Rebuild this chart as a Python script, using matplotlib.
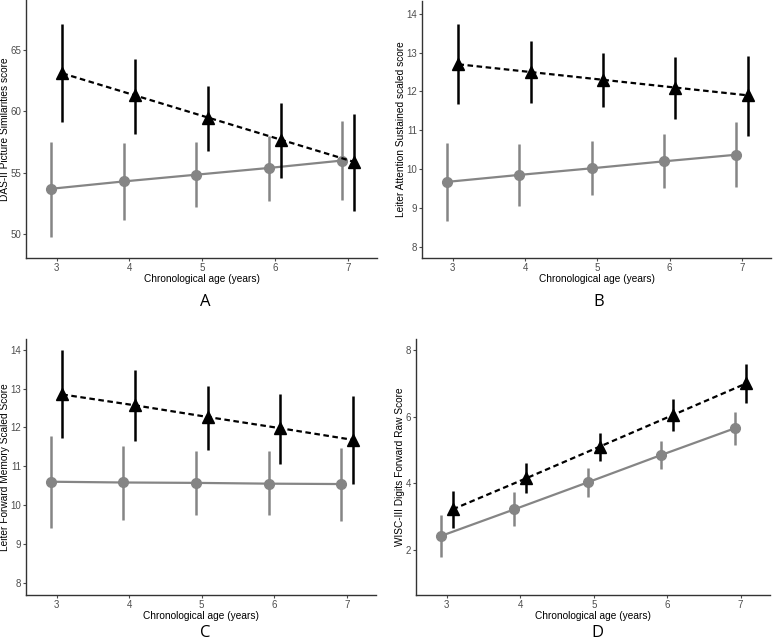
import matplotlib
matplotlib.use("Agg")
import matplotlib.pyplot as plt
import numpy as np

plt.rcParams['font.family'] = ['Liberation Sans', 'DejaVu Sans']

ages = [3, 4, 5, 6, 7]

# Panel A
a_black = [63.1, 61.3, 59.5, 57.7, 55.9]
a_black_lo = [59.1, 58.2, 56.8, 54.6, 51.9]
a_black_hi = [67.1, 64.3, 62.1, 60.7, 59.8]
a_gray = [53.7, 54.3, 54.85, 55.4, 56.0]
a_gray_lo = [49.8, 51.2, 52.2, 52.7, 52.8]
a_gray_hi = [57.5, 57.4, 57.5, 58.0, 59.2]

# Panel B
b_black = [12.7, 12.5, 12.3, 12.1, 11.9]
b_black_lo = [11.68, 11.7, 11.6, 11.3, 10.85]
b_black_hi = [13.75, 13.3, 13.0, 12.9, 12.92]
b_gray = [9.67, 9.85, 10.02, 10.2, 10.37]
b_gray_lo = [8.67, 9.05, 9.33, 9.5, 9.53]
b_gray_hi = [10.68, 10.65, 10.72, 10.9, 11.22]

# Panel C
c_black = [12.85, 12.57, 12.27, 11.98, 11.68]
c_black_lo = [11.72, 11.65, 11.42, 11.05, 10.55]
c_black_hi = [14.0, 13.47, 13.08, 12.87, 12.8]
c_gray = [10.6, 10.58, 10.57, 10.55, 10.54]
c_gray_lo = [9.4, 9.62, 9.75, 9.73, 9.6]
c_gray_hi = [11.78, 11.53, 11.4, 11.38, 11.48]

# Panel D
d_black = [3.22, 4.15, 5.1, 6.05, 7.0]
d_black_lo = [2.65, 3.7, 4.68, 5.58, 6.42]
d_black_hi = [3.78, 4.62, 5.52, 6.52, 7.57]
d_gray = [2.42, 3.22, 4.03, 4.85, 5.65]
d_gray_lo = [1.8, 2.72, 3.6, 4.42, 5.15]
d_gray_hi = [3.05, 3.75, 4.47, 5.27, 6.15]

panels = [
    dict(rect=[0.0336, 0.5988, 0.4534, 0.4012], ylim=(48.07, 69.07), yticks=[50, 55, 60, 65],
         ylabel="DAS-II Picture Similarities score", letter="A",
         black=(a_black, a_black_lo, a_black_hi), gray=(a_gray, a_gray_lo, a_gray_hi), lx=205, ly=302),
    dict(rect=[0.5456, 0.5988, 0.4505, 0.4002], ylim=(7.71, 14.34), yticks=[8, 9, 10, 11, 12, 13, 14],
         ylabel="Leiter Attention Sustained scaled score", letter="B",
         black=(b_black, b_black_lo, b_black_hi), gray=(b_gray, b_gray_lo, b_gray_hi), lx=599, ly=302),
    dict(rect=[0.0336, 0.0747, 0.4522, 0.3981], ylim=(7.68, 14.28), yticks=[8, 9, 10, 11, 12, 13, 14],
         ylabel="Leiter Forward Memory Scaled Score", letter="C",
         black=(c_black, c_black_lo, c_black_hi), gray=(c_gray, c_gray_lo, c_gray_hi), lx=205, ly=633),
    dict(rect=[0.5375, 0.0747, 0.4573, 0.3981], ylim=(0.65, 8.33), yticks=[2, 4, 6, 8],
         ylabel="WISC-III Digits Forward Raw Score", letter="D",
         black=(d_black, d_black_lo, d_black_hi), gray=(d_gray, d_gray_lo, d_gray_hi), lx=597, ly=633),
]

W, H = 774, 643
fig = plt.figure(figsize=(W / 100, H / 100), dpi=100)
gray_c = '#858585'
x = np.array(ages, dtype=float)
for p in panels:
    ax = fig.add_axes(p['rect'])
    gm, glo, ghi = [np.array(v) for v in p['gray']]
    bm, blo, bhi = [np.array(v) for v in p['black']]
    xg = x - 0.08
    xb = x + 0.08
    ax.plot(xg, gm, color=gray_c, lw=1.6, zorder=2)
    ax.vlines(xg, glo, ghi, color=gray_c, lw=1.8, zorder=2)
    ax.plot(xg, gm, 'o', color=gray_c, ms=7, zorder=3)
    ax.plot(xb, bm, color='black', lw=1.6, linestyle=(0, (2.5, 1.6)), zorder=4)
    ax.vlines(xb, blo, bhi, color='black', lw=1.8, zorder=4)
    ax.plot(xb, bm, '^', color='black', ms=9, zorder=5)
    ax.set_xlim(2.58, 7.4)
    ax.set_ylim(*p['ylim'])
    ax.set_xticks(ages)
    ax.set_yticks(p['yticks'])
    for s in ['top', 'right']:
        ax.spines[s].set_visible(False)
    for s in ['left', 'bottom']:
        ax.spines[s].set_color('#333333')
        ax.spines[s].set_linewidth(1.0)
    ax.tick_params(axis='both', labelsize=7, colors='#4d4d4d', length=2, width=0.8, pad=1.5)
    ax.set_xlabel("Chronological age (years)", fontsize=7.3, labelpad=0.5)
    ax.set_ylabel(p['ylabel'], fontsize=7.3, labelpad=0.5)
    fig.text(p['lx'] / W, 1 - p['ly'] / H, p['letter'], fontsize=12, ha='center', va='center',
             family=['Open Sans', 'DejaVu Sans'])

fig.savefig("out.png", dpi=100)
